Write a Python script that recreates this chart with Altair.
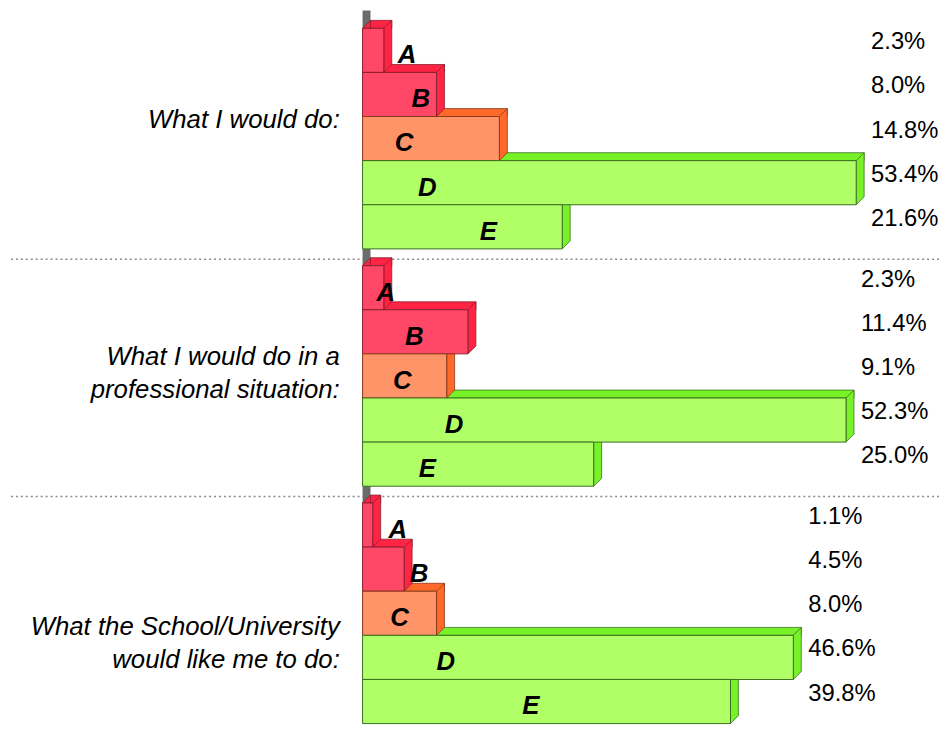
import altair as alt
import pandas as pd

# ---------------- data ----------------
groups = [
    "What I would do:",
    "What I would do in a\nprofessional situation:",
    "What the School/University\nwould like me to do:",
]
letters = ["A", "B", "C", "D", "E"]
would_do = [2.3, 8.0, 14.8, 53.4, 21.6]
professional = [2.3, 11.4, 9.1, 52.3, 25.0]
school = [1.1, 4.5, 8.0, 46.6, 39.8]
series = [would_do, professional, school]

# ---------------- layout / style ----------------
front_colors = {"A": "#FF4868", "B": "#FF4868", "C": "#FF9468", "D": "#B0FF66", "E": "#B0FF66"}
side_colors = {"A": "#FF2444", "B": "#FF2444", "C": "#FF6A2A", "D": "#78F228", "E": "#78F228"}
edge_colors = {"A": "#8A1F2E", "B": "#8A1F2E", "C": "#8A3A1A", "D": "#3B6E1F", "E": "#3B6E1F"}
# where the bar letters sit (in % units along x)
letter_x = [[4.8, 6.3, 4.5, 7.0, 13.6], [2.5, 5.6, 4.3, 9.9, 7.0], [3.8, 6.1, 4.0, 9.0, 18.2]]
# vertical anchor of group titles' first line (in bar rows from the group's top)
title_row = [2.09, 2.08, 2.82]

W, H = 560, 702
GAP = 0.38
TOTAL = 15 + 2 * GAP
D = 8  # 3-D depth in px
ROW = H / TOTAL
h2 = ROW / 2
FONT = "Liberation Sans"

side_path = f"M0,{-h2:.2f} L{D},{-h2 - D:.2f} L{D},{h2 - D:.2f} L0,{h2:.2f} Z"
corner_path = f"M0,{-h2:.2f} L{D},{-h2 - D:.2f} L{D},{-h2:.2f} Z"

rows = []
for g, (name, vals) in enumerate(zip(groups, series)):
    for i, (l, v) in enumerate(zip(letters, vals)):
        y0 = g * (5 + GAP) + i
        rows.append(dict(group=name, letter=l, value=v, zero=0.0, y0=y0, y1=y0 + 1, ymid=y0 + 0.5,
                         lx=letter_x[g][i], pct=f"{v:.1f}%",
                         front=front_colors[l], side=side_colors[l], edge=edge_colors[l]))
df = pd.DataFrame(rows)
df["gmax"] = df.groupby("group")["value"].transform("max")

titles = pd.DataFrame({"group": groups,
                       "row": [g * (5 + GAP) + title_row[g] for g in range(3)]})
seps = pd.DataFrame({"row": [5 + GAP / 2, 2 * (5 + GAP) - GAP / 2]})
dummy = pd.DataFrame({"a": [0]})

xs = alt.Scale(domain=[0, 60], nice=False, zero=True)
ys = alt.Scale(domain=[0, TOTAL], reverse=True, nice=False, zero=False)

base = alt.Chart(df)

wall = alt.Chart(dummy).mark_rect(color="#6b6b6b", x2Offset=D, yOffset=-D - 10, y2Offset=-D).encode(
    x=alt.X(datum=0, type="quantitative", scale=xs, axis=None),
    x2=alt.X2(datum=0),
    y=alt.Y(datum=0, type="quantitative", scale=ys, axis=None),
    y2=alt.Y2(datum=TOTAL),
)

separators = alt.Chart(seps).mark_rule(color="#8a8a8a", strokeDash=[2, 3], strokeWidth=1.5, yOffset=2).encode(
    y=alt.Y("row:Q", scale=ys, axis=None),
    x=alt.value(-355),
    x2=alt.value(W + 24),
)

top_face = base.mark_rect(xOffset=D, x2Offset=D, yOffset=-D, strokeWidth=0.8).encode(
    x=alt.X("zero:Q", scale=xs, axis=None),
    x2="value:Q",
    y=alt.Y("y0:Q", scale=ys, axis=None),
    y2="y0:Q",
    color=alt.Color("side:N", scale=None),
    stroke=alt.Stroke("edge:N", scale=None),
)

corner = base.mark_point(shape=corner_path, size=4, filled=True, opacity=1, strokeWidth=0.8).encode(
    x=alt.X("zero:Q", scale=xs, axis=None),
    y=alt.Y("ymid:Q", scale=ys, axis=None),
    color=alt.Color("side:N", scale=None),
    stroke=alt.Stroke("edge:N", scale=None),
)

side_face = base.mark_point(shape=side_path, size=4, filled=True, opacity=1, strokeWidth=0.8).encode(
    x=alt.X("value:Q", scale=xs, axis=None),
    y=alt.Y("ymid:Q", scale=ys, axis=None),
    color=alt.Color("side:N", scale=None),
    stroke=alt.Stroke("edge:N", scale=None),
)

front = base.mark_rect(strokeWidth=1).encode(
    x=alt.X("zero:Q", scale=xs,
            axis=alt.Axis(values=[10, 20, 30, 40, 50, 60], labels=False, ticks=False, domain=False,
                          title=None, grid=True, gridColor="#e2e2e2", gridDash=[3, 3], gridWidth=1)),
    x2="value:Q",
    y=alt.Y("y0:Q", scale=ys, axis=None),
    y2="y1:Q",
    color=alt.Color("front:N", scale=None),
    stroke=alt.Stroke("edge:N", scale=None),
)

letter_text = base.mark_text(font=FONT, fontSize=26, fontWeight="bold", fontStyle="italic",
                             color="black", align="center", baseline="middle", dy=5).encode(
    x=alt.X("lx:Q", scale=xs, axis=None),
    y=alt.Y("ymid:Q", scale=ys, axis=None),
    text="letter:N",
)

pct_text = base.mark_text(font=FONT, fontSize=24, color="black", align="left", baseline="middle",
                          dx=15, dy=-8).encode(
    x=alt.X("gmax:Q", scale=xs, axis=None),
    y=alt.Y("ymid:Q", scale=ys, axis=None),
    text="pct:N",
)

title_text = alt.Chart(titles).mark_text(font=FONT, fontSize=26, fontStyle="italic", color="black",
                                         align="right", baseline="middle", lineBreak="\n",
                                         lineHeight=33).encode(
    x=alt.value(-23),
    y=alt.Y("row:Q", scale=ys, axis=None),
    text="group:N",
)

chart = alt.layer(separators, wall, top_face, corner, side_face, front,
                  letter_text, pct_text, title_text).properties(
    width=W, height=H,
    autosize=alt.AutoSizeParams(type="none"),
    padding={"left": 358, "top": 17, "right": 22, "bottom": 3},
).configure_view(stroke=None)

chart.save("out.html", embed_options={"renderer": "svg", "actions": False})
